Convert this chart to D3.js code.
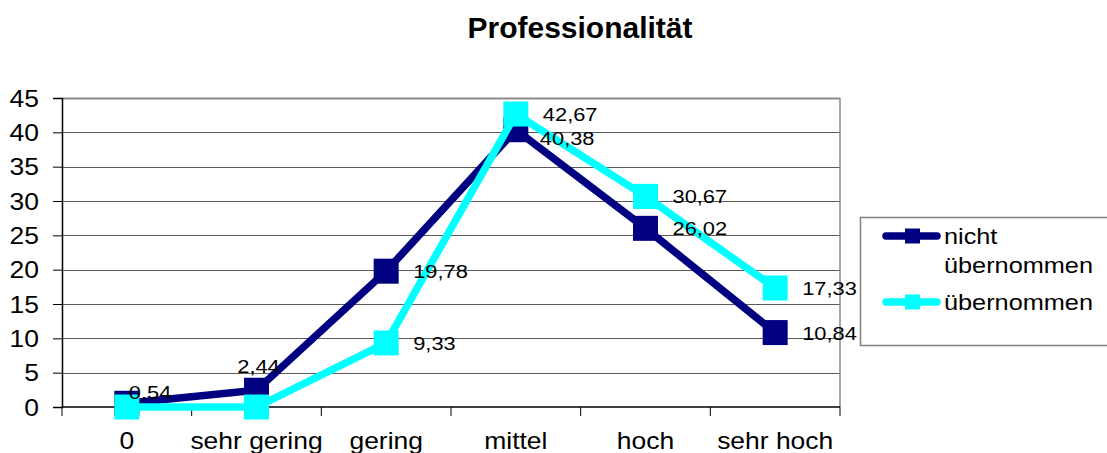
<!DOCTYPE html>
<html>
<head>
<meta charset="utf-8">
<script src="https://cdn.jsdelivr.net/npm/d3@7"></script>
<style>
  body { margin: 0; background: #fff; }
  svg text { font-family: "Liberation Sans", Arial, sans-serif; fill: #000; }
</style>
</head>
<body>
<div id="chart"></div>
<script>
// chart data
var categories = ['0', 'sehr gering', 'gering', 'mittel', 'hoch', 'sehr hoch'];
var nichtUebernommen = [0.54, 2.44, 19.78, 40.38, 26.02, 10.84];
var uebernommen = [0, 0, 9.33, 42.67, 30.67, 17.33];
var yTicks = [0, 5, 10, 15, 20, 25, 30, 35, 40, 45];
var seriesNames = ['nicht übernommen', 'übernommen'];

var series = [
    {name: seriesNames[0], values: nichtUebernommen, color: '#000080'},
    {name: seriesNames[1], values: uebernommen, color: '#00ffff'}
];

// a few data labels that excel moved away from their default spot
var labelNudge = {
    '0-0': {dx: 2, dy: -11, anchor: 'start'},
    '0-1': {dx: 2, dy: -24, anchor: 'middle'},
    '0-3': {dx: 24, dy: 8, anchor: 'start'}
};

var W = 1107, H = 453;
var plot = {left: 62, right: 840, top: 98, bottom: 407};
var stretch = 1.15;   // original text looks a bit wider than plain arial

var svg = d3.select('#chart').append('svg')
    .attr('width', W)
    .attr('height', H);

var x = d3.scaleBand().domain(categories).range([plot.left, plot.right]);
var y = d3.scaleLinear().domain([0, 45]).range([plot.bottom, plot.top]);
var cx = function (c) { return x(c) + x.bandwidth() / 2; };

// title
svg.append('text')
    .attr('x', 580)
    .attr('y', 38)
    .attr('text-anchor', 'middle')
    .style('font-size', '30px')
    .style('font-weight', 'bold')
    .text('Professionalität');

// grid lines
svg.append('g').selectAll('line')
    .data(yTicks.filter(function (t) { return t > 0; }))
    .enter().append('line')
    .attr('x1', plot.left).attr('x2', plot.right)
    .attr('y1', function (d) { return Math.round(y(d)) + 0.5; })
    .attr('y2', function (d) { return Math.round(y(d)) + 0.5; })
    .attr('stroke', function (d) { return d === 45 ? '#8a8a8a' : '#5a5a5a'; })
    .attr('stroke-width', function (d) { return d === 45 ? 2 : 1; });

// right border of plot area
svg.append('line')
    .attr('x1', plot.right).attr('x2', plot.right)
    .attr('y1', plot.top).attr('y2', plot.bottom)
    .attr('stroke', '#8a8a8a')
    .attr('stroke-width', 1.5);

// y axis
var yAxis = svg.append('g')
    .attr('transform', 'translate(' + plot.left + ',0)')
    .call(d3.axisLeft(y).tickValues(yTicks).tickSize(9).tickFormat(d3.format('d')));
yAxis.select('.domain').attr('stroke', '#000').attr('stroke-width', 1.5);
yAxis.selectAll('.tick line').attr('stroke', '#000');
yAxis.selectAll('.tick text')
    .attr('x', null).attr('dy', null)
    .attr('text-anchor', 'end')
    .attr('transform', 'translate(-23,8) scale(' + stretch + ',1)')
    .style('font-size', '23px');

// x axis, ticks sit between the categories
var xAxis = svg.append('g')
    .attr('transform', 'translate(0,' + plot.bottom + ')');
xAxis.append('line')
    .attr('x1', plot.left).attr('x2', plot.right)
    .attr('stroke', '#000').attr('stroke-width', 1.5);
xAxis.selectAll('line.tick')
    .data(categories.concat(['end']))
    .enter().append('line')
    .attr('class', 'tick')
    .attr('x1', function (d, i) { return plot.left + i * x.bandwidth(); })
    .attr('x2', function (d, i) { return plot.left + i * x.bandwidth(); })
    .attr('y1', 0).attr('y2', 9)
    .attr('stroke', '#000');
xAxis.selectAll('text')
    .data(categories)
    .enter().append('text')
    .attr('text-anchor', 'middle')
    .attr('transform', function (d) { return 'translate(' + cx(d) + ',42) scale(' + stretch + ',1)'; })
    .style('font-size', '23px')
    .text(function (d) { return d; });

// lines and markers
var line = d3.line()
    .x(function (d, i) { return cx(categories[i]); })
    .y(function (d) { return y(d); });

var mk = 25;
series.forEach(function (s) {
    var g = svg.append('g');
    g.append('path')
        .datum(s.values)
        .attr('d', line)
        .attr('fill', 'none')
        .attr('stroke', s.color)
        .attr('stroke-width', 7.5)
        .attr('stroke-linejoin', 'miter');
    g.selectAll('rect')
        .data(s.values)
        .enter().append('rect')
        .attr('x', function (d, i) { return cx(categories[i]) - mk / 2; })
        .attr('y', function (d) { return y(d) - mk / 2; })
        .attr('width', mk)
        .attr('height', mk)
        .attr('fill', s.color);
});

// data labels
var fmt = function (v) { return d3.format('.2f')(v).replace('.', ','); };
series.forEach(function (s, si) {
    s.values.forEach(function (v, i) {
        if (v === 0) return;
        var n = labelNudge[si + '-' + i] || {dx: 27, dy: 0, anchor: 'start'};
        svg.append('text')
            .attr('text-anchor', n.anchor)
            .attr('transform', 'translate(' + (cx(categories[i]) + n.dx) + ',' + (y(v) + n.dy + 7) + ') scale(' + stretch + ',1)')
            .style('font-size', '19px')
            .text(fmt(v));
    });
});

// legend
var legend = svg.append('g');
legend.append('rect')
    .attr('x', 860.5).attr('y', 217.5)
    .attr('width', 260).attr('height', 128)
    .attr('fill', '#fff')
    .attr('stroke', '#808080')
    .attr('stroke-width', 1.5);
var legendRows = [236, 302];
series.forEach(function (s, i) {
    var ly = legendRows[i];
    legend.append('line')
        .attr('x1', 886).attr('x2', 937)
        .attr('y1', ly).attr('y2', ly)
        .attr('stroke', s.color)
        .attr('stroke-width', 7.5)
        .attr('stroke-linecap', 'round');
    legend.append('rect')
        .attr('x', 905).attr('y', ly - 7.5)
        .attr('width', 15).attr('height', 15)
        .attr('fill', s.color);
    var words = s.name === 'nicht übernommen' ? ['nicht', 'übernommen'] : [s.name];
    words.forEach(function (w, j) {
        legend.append('text')
            .attr('transform', 'translate(944,' + (ly + 8 + j * 29) + ') scale(' + stretch + ',1)')
            .style('font-size', '22px')
            .text(w);
    });
});
</script>
</body>
</html>
